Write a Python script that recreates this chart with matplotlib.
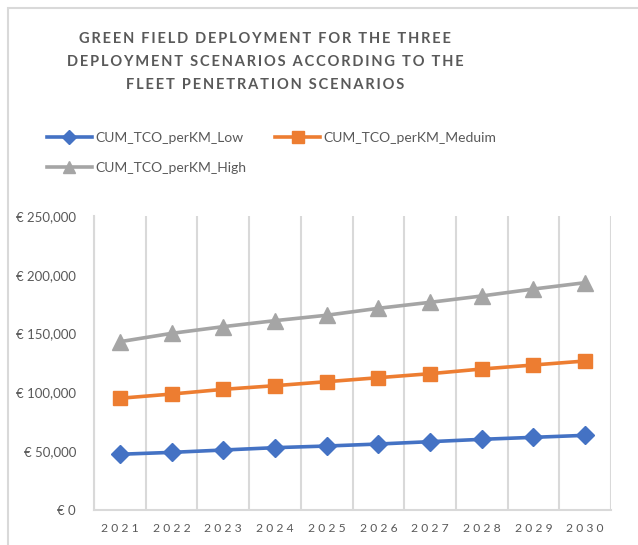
import matplotlib.pyplot as plt
from matplotlib.patches import Rectangle
from matplotlib.ticker import FuncFormatter

years = ['2021', '2022', '2023', '2024', '2025', '2026', '2027', '2028', '2029', '2030']
low = [47400, 49000, 51000, 53000, 54400, 56100, 58100, 60100, 61800, 63500]
medium = [95000, 98600, 102600, 105700, 109100, 112500, 115900, 119900, 123300, 126700]
high = [143100, 150200, 155900, 161000, 165600, 171500, 176600, 182000, 187900, 193300]

title_lines = ['GREEN FIELD DEPLOYMENT FOR THE THREE',
               'DEPLOYMENT SCENARIOS ACCORDING TO THE',
               'FLEET PENETRATION SCENARIOS']

plt.rcParams['font.family'] = ['Lato', 'DejaVu Sans']
txt = '#595959'
grid_c = '#d9d9d9'


def spaced(s, gap='\u2009', wgap='  '):
    # imitate Excel character spacing
    return wgap.join(gap.join(w) for w in s.split(' '))


fig = plt.figure(figsize=(6.38, 5.45), dpi=100)
ax = fig.add_axes([94 / 638, 1 - 510 / 545, 517 / 638, 294 / 545])

# chart frame
fig.patches.append(Rectangle((8 / 638, -0.1), 1.2, 1 - 8 / 545 + 0.1, transform=fig.transFigure,
                             fill=False, edgecolor=grid_c, linewidth=1.5))

x = range(len(years))
l1, = ax.plot(x, low, color='#4472C4', lw=2.6, marker='D', ms=9, label='CUM_TCO_perKM_Low')
l2, = ax.plot(x, medium, color='#ED7D31', lw=2.6, marker='s', ms=10.5, label='CUM_TCO_perKM_Meduim')
l3, = ax.plot(x, high, color='#A5A5A5', lw=2.6, marker='^', ms=11, label='CUM_TCO_perKM_High')

ax.set_xlim(-0.5, len(years) - 0.5)
ax.set_ylim(0, 250000)
ax.set_yticks(range(0, 250001, 50000))
ax.yaxis.set_major_formatter(FuncFormatter(lambda v, p: '€ {:,.0f}'.format(v)))
ax.set_xticks(list(x))
ax.set_xticklabels([spaced(y, ' ') for y in years])
ax.set_xticks([i - 0.5 for i in range(len(years) + 1)], minor=True)
ax.grid(True, which='minor', axis='x', color=grid_c, lw=1.5)
ax.tick_params(which='both', length=0)
ax.tick_params(axis='y', labelsize=9.5, labelcolor=txt, pad=13)
ax.tick_params(axis='x', labelsize=8.7, labelcolor=txt, pad=9)
for s in ['top', 'right']:
    ax.spines[s].set_visible(False)
for s in ['left', 'bottom']:
    ax.spines[s].set_color(grid_c)
    ax.spines[s].set_linewidth(1.5)

for i, line in enumerate(title_lines):
    fig.text(265 / 638, 1 - (39 + 23 * i) / 545, spaced(line), ha='center', va='center',
             fontsize=10.5, fontweight='bold', color=txt)

# column-major fill: Low, High in first column, Meduim in second
leg = fig.legend([l1, l3, l2], [l1.get_label(), l3.get_label(), l2.get_label()],
                 loc='upper left', bbox_to_anchor=(34 / 638, 1 - 119 / 545), ncol=2,
                 frameon=False, fontsize=10, handlelength=3.3, handletextpad=0.2,
                 columnspacing=2.05, labelspacing=1.35, labelcolor=txt, markerscale=0.8)

fig.savefig('out.png', dpi=100)
